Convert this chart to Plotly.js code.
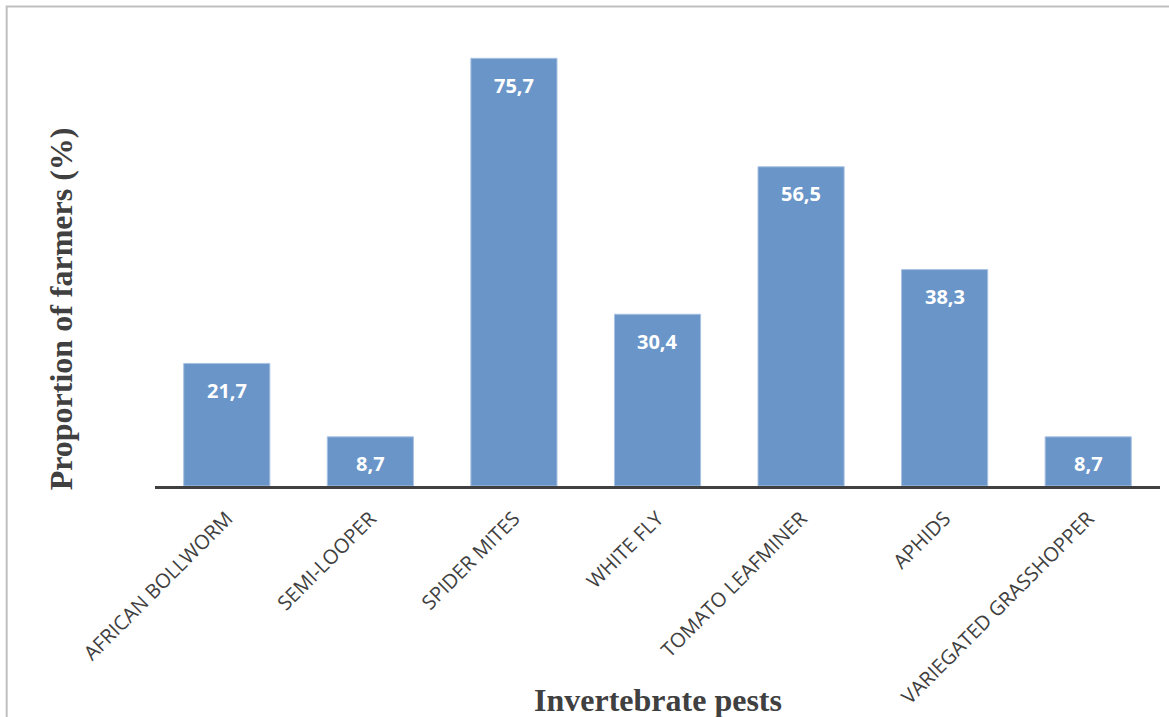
<!DOCTYPE html>
<html>
<head>
<meta charset="utf-8">
<script src="https://cdn.plot.ly/plotly-3.0.1.min.js"></script>
<style>
  html, body { margin: 0; padding: 0; background: #ffffff; }
  #chart { width: 1169px; height: 717px; }
</style>
</head>
<body>
<div id="chart"></div>
<script>
// Invertebrate pests reported by farmers
const pests = ["AFRICAN BOLLWORM", "SEMI-LOOPER", "SPIDER MITES", "WHITE FLY",
               "TOMATO LEAFMINER", "APHIDS", "VARIEGATED GRASSHOPPER"];
const proportions = [21.7, 8.7, 75.7, 30.4, 56.5, 38.3, 8.7];
const valueLabels = proportions.map(v => v.toFixed(1).replace(".", ","));

const barColor = "#6a95c8";
const serif = "Liberation Serif, Times New Roman, serif";

const trace = {
  type: "bar",
  x: pests,
  y: proportions,
  marker: { color: barColor, line: { color: "#a9c2e2", width: 1 } },
  hoverinfo: "x+y"
};

// value labels sit inside each bar, just below its top
const labels = pests.map((p, i) => ({
  x: p, y: proportions[i], xref: "x", yref: "y",
  text: valueLabels[i], showarrow: false,
  yanchor: "middle", yshift: -27,
  font: { family: "Open Sans, sans-serif", size: 20, color: "#ffffff", weight: 700 }
}));

// axis titles
labels.push({
  xref: "paper", yref: "paper", x: -0.094, y: 0.392,
  xanchor: "center", yanchor: "middle", textangle: -90,
  text: "<b>Proportion of farmers (%)</b>", showarrow: false,
  font: { family: serif, size: 32, color: "#404040" }
});
labels.push({
  xref: "paper", yref: "paper", x: 0.5, y: -0.473,
  xanchor: "center", yanchor: "middle",
  text: "<b>Invertebrate pests</b>", showarrow: false,
  font: { family: serif, size: 32, color: "#404040" }
});

const layout = {
  width: 1169, height: 717,
  margin: { l: 155, r: 9, t: 34, b: 231 },
  paper_bgcolor: "#ffffff", plot_bgcolor: "#ffffff",
  bargap: 0.4,
  showlegend: false,
  xaxis: {
    type: "category",
    tickangle: -45,
    ticks: "", showgrid: false,
    ticklabelstandoff: 10,
    showline: true, linecolor: "#404040", linewidth: 3,
    tickfont: { family: "Open Sans, sans-serif", size: 20, color: "#404040" }
  },
  yaxis: {
    range: [0, 80],
    showticklabels: false, showgrid: false, zeroline: false,
    showline: false, ticks: "", fixedrange: true
  },
  annotations: labels,
  shapes: [{
    type: "rect", xref: "paper", yref: "paper",
    x0: -0.1476, x1: 1.02, y0: 1.061, y1: -0.6,
    line: { color: "#bfbfbf", width: 2 }, fillcolor: "rgba(0,0,0,0)",
    layer: "below"
  }]
};

Plotly.newPlot("chart", [trace], layout, { displayModeBar: false, staticPlot: true });
</script>
</body>
</html>
